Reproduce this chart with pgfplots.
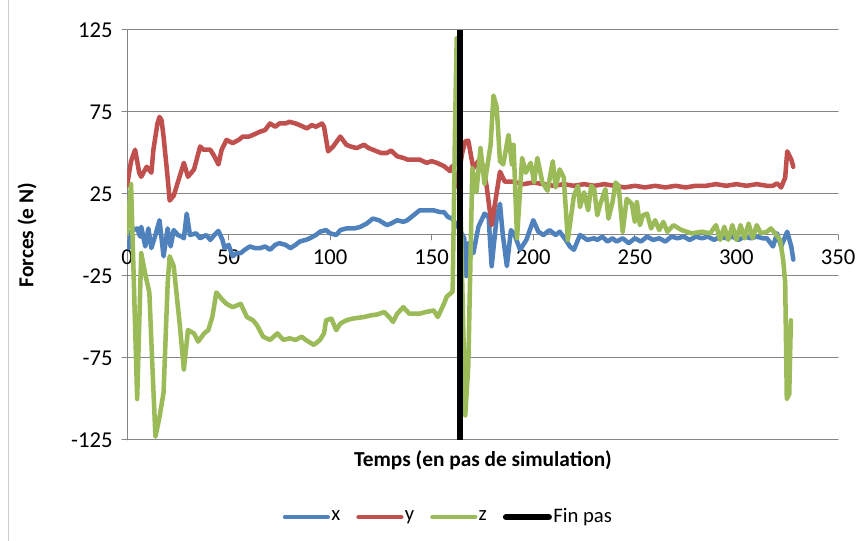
\documentclass[border=0pt]{standalone}
\usepackage{pgfplots}
\pgfplotsset{compat=1.18}
\usepackage{fontspec}
\setmainfont{Carlito}

\definecolor{xcol}{HTML}{4F81BD}
\definecolor{ycol}{HTML}{C0504D}
\definecolor{zcol}{HTML}{9BBB59}
\definecolor{gridcol}{HTML}{868686}

\begin{document}
\fontsize{16}{19}\selectfont
\begin{tikzpicture}
\path[use as bounding box] (0,0) rectangle (649.5pt,405.75pt);
\draw[gray!40, line width=0.75pt] (6pt,0) -- (6pt,405.75pt);
\begin{axis}[
    at={(95.25pt,75.75pt)}, anchor=south west,
    scale only axis, width=533.25pt, height=307.5pt,
    xmin=0, xmax=350, ymin=-125, ymax=125,
    axis x line=middle, axis y line=left,
    axis line style={-, draw=gridcol, line width=0.75pt},
    hide obscured x ticks=false,
    xtick={0,50,...,350}, ytick={-125,-75,-25,25,75,125},
    tick align=outside, major tick length=3.75pt,
    tick style={draw=gridcol, line width=0.75pt},
    ymajorgrids, grid style={draw=gridcol, line width=0.75pt},
    /pgf/number format/assume math mode=true,
    ticklabel style={font=\fontsize{17}{20}\selectfont},
    xticklabel style={yshift=-2pt},
    yticklabel style={xshift=-1.5pt},
    xlabel={\textbf{Temps (en pas de simulation)}},
    ylabel={\textbf{Forces (e N)}},
    xlabel style={at={(axis description cs:0.5007,-0.0488)}, anchor=center},
    ylabel style={at={(axis description cs:-0.1406,0.5)}, anchor=center},
    legend style={at={(0.4515,-0.188)}, anchor=center, legend columns=-1,
        draw=none, fill=none, font=\fontsize{15.5}{18}\selectfont,
        nodes={inner sep=1pt},
        /tikz/every even column/.append style={column sep=11pt},
        /tikz/every odd column/.append style={column sep=0pt}},
    legend image code/.code={\draw[#1, line cap=round] (0pt,0pt) -- (32pt,0pt);},
    line join=round, line cap=round,
]
\addplot[xcol, line width=3.4pt] coordinates {
(0,-5) (1,-8) (2,2) (3,3) (5,4) (6.5,-1) (7,5) (9,-7) (10.5,4) (12,-8) (14,0)
(16,9) (18,-13) (20,4) (21.5,-7) (23,3) (25,0) (27,-1) (28,-2) (29.4,13) (31,0)
(34,1) (36,-2) (39,0) (41,-3) (43,0) (45,2.5) (47,-3) (48,-8) (50,-6) (52,-13)
(54,-11) (56,-11) (58,-9) (60.5,-7) (63,-8) (65.5,-8) (68,-7) (70.4,-9) (73,-6)
(75,-5) (78,-6) (80.5,-8) (83,-6) (85,-4) (88,-3) (90,-2) (93,0) (95,2) (98,3)
(100,1) (103,0) (105,3) (108,4) (112,4) (115,5) (118,7) (121,10) (124,9) (128,6)
(130,7) (133,9) (136,8) (138,9) (141,12) (144,15) (148,15) (151,15) (154,14)
(156,14) (158,11) (160,10) (163,5) (166,-2) (167,-25) (168,-5) (170.5,-11)
(173,5) (176,13) (178,11) (179.5,-19) (182,11) (183.6,19) (185,0) (187,-19)
(189,3) (190.8,0) (193.5,-9) (196.6,-3) (200,9) (202.5,2) (205,0) (208,3) (211,0)
(213,2) (216,-3) (218,-7) (220,-9) (223,0) (226.6,-3) (230,-2) (231.5,-3)
(234,-1) (236.5,-4) (239,-2) (241,-4) (244,-2) (247,-5) (250,-2) (253,-4)
(256,-1) (259,-3) (262,-2) (265,-4) (268,-1) (271,-2) (274,-1) (277,-3) (280,-1)
(283,-2) (286,-1) (289,-3) (292,-1) (295,-2) (298,-1) (301,-3) (304,-1) (307,-2)
(310,-1) (313,-2) (315,-2) (318,-7) (320,1) (322,-7) (325,2) (327,-7) (328,-15)
};
\addplot[ycol, line width=3.4pt] coordinates {
(0,30) (2,45) (4,52) (6,38) (7,35.5) (9.7,41.6) (12,38) (13,52) (15,68) (16,72)
(17,70) (18,60) (20,35) (21,21) (23,24) (26,36) (28,44) (30,35.5) (33,40) (36,54)
(37.5,52) (41,52) (43,48) (45,43) (46.6,52) (49,58) (52,56) (55,58) (57,60)
(60,60) (62,61) (65.5,63) (68,64) (70.4,68) (73,66) (75,68) (78,68) (80,69)
(83,68) (85,67) (88.5,65) (91,67) (93,66) (96,68) (97,66) (99,51) (101.5,54)
(105,60) (108,55) (110,54) (113,53) (116.7,55) (119,53) (121,52) (125,50)
(128,50) (130,51.5) (133,48) (136,47) (138,46) (141,46) (144,46) (147.5,44)
(150,45) (152.5,44) (156,42) (159,39) (160,42) (161,39) (161.5,29) (163,35)
(165,50) (166.4,57) (168,57.5) (170.5,40.6) (174,47) (175.5,40) (177,30)
(179.5,6) (181,18) (183.6,38.6) (186,32.5) (190,32.5) (195,31) (200,32) (205,31)
(210,30) (215,31) (220,30) (225,31) (230,30) (235,31) (240,30) (245,29) (250,30)
(255,29) (260,30) (265,29) (270,30) (275,29) (280,30) (285,30) (290,31) (295,30)
(300,31) (305,30) (310,31) (315,30) (318,30) (320,31.5) (322,29) (324,35)
(325,51) (327,46) (328,41.6)
};
\addplot[zcol, line width=3.4pt] coordinates {
(0,1) (2,31) (5,-100) (7,-11) (9,-24) (11,-35) (12.5,-80) (14,-123) (16,-111)
(18,-96) (20,-30) (21,-13) (23,-19) (26,-55) (28,-82) (30,-58) (33,-60) (35,-65)
(38,-60) (40,-58) (42,-50) (44,-35) (46.6,-39) (49,-42) (52,-44) (56,-42)
(59,-50) (62,-52) (64,-55) (67,-62) (70.4,-64) (74,-60) (77,-64) (80,-63)
(83,-64) (86,-62) (88,-64) (92,-67) (95,-64) (97,-60) (98,-52) (100.6,-51)
(103,-58) (105,-54) (108,-52) (111,-51) (116.7,-50) (120,-49) (123,-48.5)
(126.7,-47) (129,-50) (131,-53) (133,-48) (136,-44) (139,-48) (144,-48) (147,-47)
(151,-46) (153,-50) (156,-42) (157.4,-37.6) (160.3,-34.5) (161.5,67) (162.3,120)
(166.5,-110) (168,-80) (170,40.6) (172,26) (174,53) (176,31) (179,55) (180.4,85)
(182,78) (183.6,45) (185.2,43) (187.8,61) (189.5,43) (190.3,55) (192,-2)
(194.5,47) (196.3,38) (198.7,44) (200.4,32) (202,47) (204.5,32) (207,27)
(209.6,45) (211,29) (213,40) (215,35) (217,-3) (220,24) (222,30) (223,17) (225,26)
(227,15) (228.5,30) (230,28) (231.5,12) (233,19) (235.5,28) (237,10) (239,20)
(240.5,32) (242,30) (244,2) (246,22) (248.5,19) (250,8) (251,20) (252.5,6)
(254,12) (256,13) (258,4) (260,9) (262,3) (264,8) (266,2) (269,6) (273,3) (278,1)
(283,2) (287,1) (290,6) (292,-3) (294,5) (296,-3) (298,6) (300,-3) (302,6)
(304,-2) (306,7) (308,-2) (310,6) (312,1) (315,2) (317,4) (319,1) (321.5,-3)
(323,-15) (324,-29) (324.8,-100) (326,-97) (326.8,-52)
};
\addplot[black, line width=4.8pt, line cap=butt] coordinates {(164,-125) (164,125)};
\legend{x, y, z, Fin pas}
\end{axis}
\end{tikzpicture}
\end{document}
